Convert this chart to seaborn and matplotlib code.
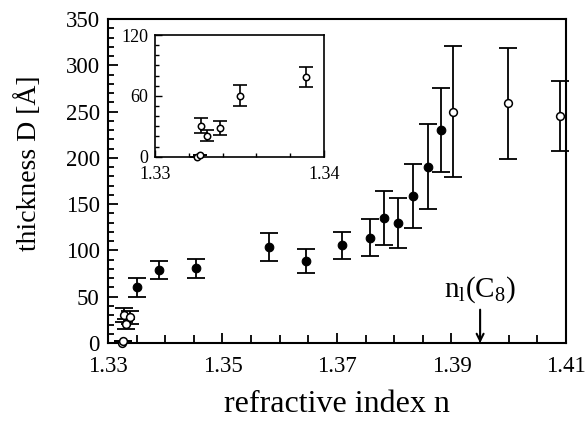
import numpy as np
import pandas as pd
import matplotlib
matplotlib.use("Agg")
import matplotlib.pyplot as plt
from matplotlib.ticker import MultipleLocator, FixedLocator
import seaborn as sns

# low-n points (also shown in the inset)
n_low = [1.33247, 1.33266, 1.33272, 1.33306, 1.33385, 1.33503, 1.33893]
D_low = [0, 1.7, 30.6, 20.7, 28.0, 60.2, 79.0]
err_low = [0, 0, 7.5, 5.2, 7.0, 10.5, 9.8]
filled_low = [False, False, False, False, False, True, True]

# filled points (main plot)
n_fill = [1.3453, 1.3582, 1.3646, 1.3709, 1.3758, 1.3782, 1.3806, 1.3833, 1.3859, 1.3882]
D_fill = [80.6, 104.0, 88.2, 105.8, 113.7, 135.3, 129.6, 158.7, 190.4, 230.0]
err_fill = [10, 15, 13, 14.6, 20, 29, 27, 35, 46, 45.5]

# open points at high n
n_open = [1.3902, 1.3999, 1.4089]
D_open = [249.8, 258.8, 245.5]
err_open = [71, 60, 38]

n_C8 = 1.395

low = pd.DataFrame({"n": n_low, "D": D_low, "err": err_low, "filled": filled_low})
main = pd.concat([
    low,
    pd.DataFrame({"n": n_fill, "D": D_fill, "err": err_fill, "filled": True}),
    pd.DataFrame({"n": n_open, "D": D_open, "err": err_open, "filled": False}),
], ignore_index=True)

sns.set_style("ticks")
plt.rcParams["font.family"] = ["Liberation Serif", "DejaVu Serif"]
plt.rcParams["mathtext.fontset"] = "custom"
plt.rcParams["mathtext.rm"] = "Liberation Serif"
plt.rcParams["mathtext.it"] = "Liberation Serif:italic"
for k in ["text.color", "axes.labelcolor", "xtick.color", "ytick.color", "axes.edgecolor"]:
    plt.rcParams[k] = "black"

fig = plt.figure(figsize=(5.85, 4.26), dpi=100)
ax = fig.add_axes([0.1846, 0.1948, 0.7829, 0.7606])


def draw(ax, df, ms_open, ms_fill, cap, lw):
    ax.errorbar(df["n"], df["D"], yerr=df["err"], fmt="none", ecolor="black",
                elinewidth=lw, capsize=cap, capthick=lw, clip_on=False, zorder=2)
    f = df[df["filled"]]
    o = df[~df["filled"]]
    if len(f):
        sns.scatterplot(data=f, x="n", y="D", ax=ax, color="black", s=ms_fill ** 2,
                        edgecolor="black", linewidth=0.8, clip_on=False, zorder=3)
    if len(o):
        sns.scatterplot(data=o, x="n", y="D", ax=ax, color="white", s=ms_open ** 2,
                        edgecolor="black", linewidth=1.1, clip_on=False, zorder=3)


draw(ax, main, 5.6, 6.2, 6.5, 1.3)

ax.set_xlim(1.33, 1.41)
ax.set_ylim(0, 350)
ax.xaxis.set_major_locator(FixedLocator([1.33, 1.35, 1.37, 1.39, 1.41]))
ax.xaxis.set_minor_locator(MultipleLocator(0.005))
ax.yaxis.set_major_locator(MultipleLocator(50))
ax.yaxis.set_minor_locator(MultipleLocator(10))
ax.set_xticklabels(["1.33", "1.35", "1.37", "1.39", "1.41"])
ax.tick_params(which="both", direction="in", top=False, right=False, width=1.3,
               labelsize=16.5)
ax.tick_params(axis="x", which="both", pad=9)
ax.tick_params(axis="y", which="both", pad=6)
ax.tick_params(which="major", length=7)
ax.tick_params(axis="y", which="minor", length=4)
ax.tick_params(axis="x", which="minor", length=6)
for s in ax.spines.values():
    s.set_linewidth(1.5)
ax.set_xlabel("refractive index n", fontsize=23, labelpad=10)
ax.set_ylabel("thickness D [Å]", fontsize=20)
ax.yaxis.set_label_coords(-0.145, 0.556)

ax.annotate("", xy=(n_C8, 0), xytext=(n_C8, 36),
            arrowprops=dict(arrowstyle="->,head_length=0.5,head_width=0.25",
                            color="black", lw=1.5, shrinkA=0, shrinkB=0))
ax.text(n_C8, 41, r"n$_\mathrm{l}$(C$_8$)", ha="center", va="bottom", fontsize=21)

# inset: same low-n points, all drawn open
axi = fig.add_axes([0.265, 0.6322, 0.2889, 0.2856])
draw(axi, low.assign(filled=False), 4.6, 4.6, 5, 1.2)
axi.set_xlim(1.33, 1.34)
axi.set_ylim(0, 120)
axi.xaxis.set_major_locator(FixedLocator([1.33, 1.34]))
axi.xaxis.set_minor_locator(MultipleLocator(0.002))
axi.set_xticklabels(["1.33", "1.34"])
axi.yaxis.set_major_locator(MultipleLocator(60))
axi.yaxis.set_minor_locator(MultipleLocator(10))
axi.tick_params(which="both", direction="in", top=False, right=False, width=1.0,
                labelsize=13)
axi.tick_params(axis="x", which="both", pad=7)
axi.tick_params(axis="y", which="both", pad=5)
axi.tick_params(which="major", length=5)
axi.tick_params(which="minor", length=3)
axi.set_xlabel("")
axi.set_ylabel("")
for s in axi.spines.values():
    s.set_linewidth(1.2)

fig.savefig("out.png", dpi=100)
